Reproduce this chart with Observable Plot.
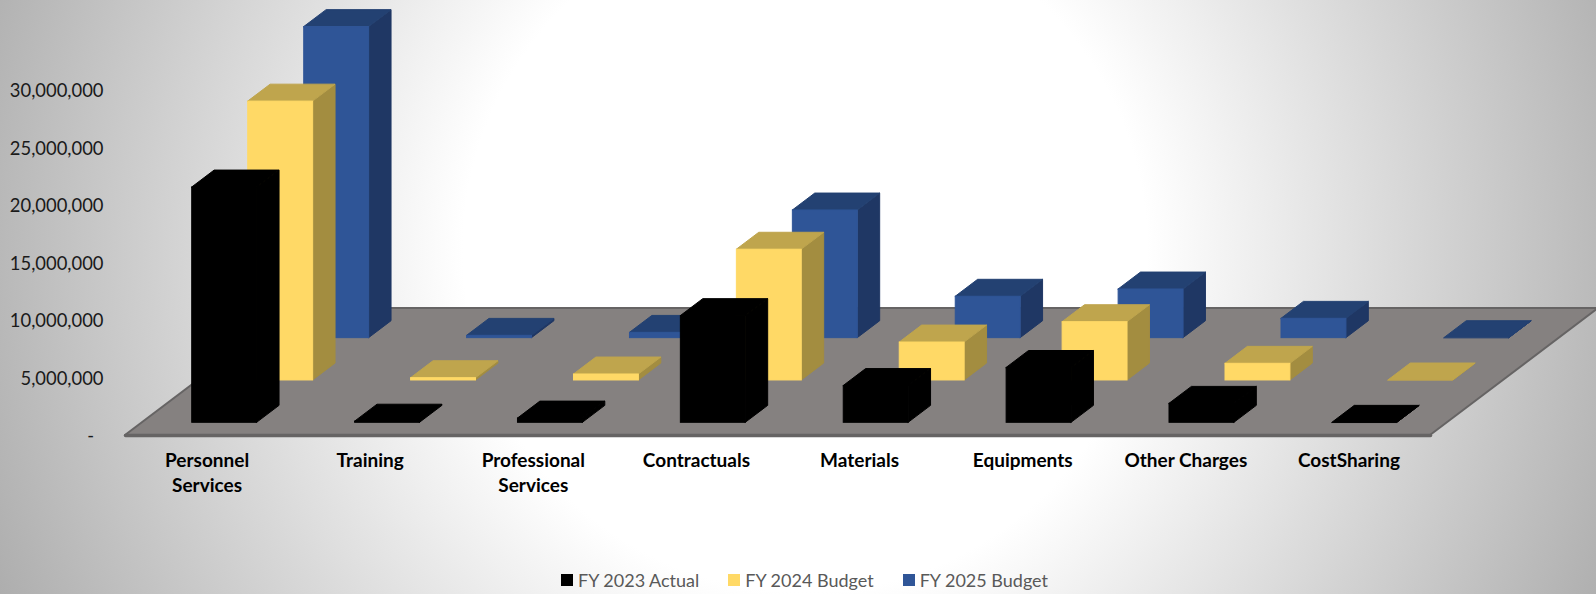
<!DOCTYPE html>
<html>
<head>
<meta charset="utf-8">
<script src="https://cdn.jsdelivr.net/npm/d3@7"></script>
<script src="https://cdn.jsdelivr.net/npm/@observablehq/plot@0.6"></script>
<style>
  html, body { margin: 0; padding: 0; width: 1596px; height: 594px; overflow: hidden; }
  body { background: radial-gradient(circle 900px at 805px 250px, #ffffff 38%, #aaaaaa 100%); font-family: Lato, sans-serif; }
  svg { display: block; }
  #legend { display: flex; align-items: center; height: 34px; padding-left: 561px; padding-top: 6px; box-sizing: border-box; color: #595959; font-size: 18px; }
  #legend .item { display: flex; align-items: center; gap: 5px; margin-right: 29px; }
  #legend .swatch { width: 12px; height: 12px; }
</style>
</head>
<body>
<div id="chart"></div>
<div id="legend"></div>
<script>
// Budget by expense class, dollars
const categories = ["Personnel\nServices", "Training", "Professional\nServices", "Contractuals", "Materials", "Equipments", "Other Charges", "CostSharing"];
const fy2023Actual = [20460000, 100000, 370000, 9280000, 3200000, 4770000, 1650000, 0];
const fy2024Budget = [24250000, 200000, 520000, 11370000, 3300000, 5070000, 1450000, 0];
const fy2025Budget = [27050000, 200000, 460000, 11100000, 3600000, 4230000, 1680000, 0];
const yTicks = [0, 5000000, 10000000, 15000000, 20000000, 25000000, 30000000];

const seriesList = [
  {name: "FY 2023 Actual", values: fy2023Actual, front: "#000000", top: "#000000", side: "#000000"},
  {name: "FY 2024 Budget", values: fy2024Budget, front: "#FFD966", top: "#BFA54D", side: "#A38D40"},
  {name: "FY 2025 Budget", values: fy2025Budget, front: "#2F5597", top: "#234172", side: "#1F3764"}
];

// Oblique projection: one row of depth shifts a point along both data axes.
const xPerDepth = 0.3433;
const yPerDepth = 3681000;
const barStart = 0.306;   // bar's left edge inside its category
const barWidth = 0.398;
const barStep = 0.9985;   // bar-to-bar spacing, in categories
const barFront = 0.3;     // depth offset of a bar's front inside its row
const barBack = 0.7;
const rows = seriesList.length;
const px = (u, d) => u + d * xPerDepth;
const pv = (v, d) => v + d * yPerDepth;

// Floor outline, as horizontal spans at the front and back edge
const floor = [
  {x1: px(0, 0), x2: px(categories.length, 0), y: pv(0, 0)},
  {x1: px(0, rows), x2: px(categories.length, rows), y: pv(0, rows)}
];

function barMarks(s, row) {
  const d0 = row + barFront, d1 = row + barBack;
  const bars = s.values.map((v, i) => {
    const l = i * barStep + barStart;
    return {i, v, l, r: l + barWidth};
  });
  const top = bars.flatMap(b => [
    {id: b.i, x1: px(b.l, d0), x2: px(b.r, d0), y: pv(b.v, d0)},
    {id: b.i, x1: px(b.l, d1), x2: px(b.r, d1), y: pv(b.v, d1)}
  ]);
  const side = bars.flatMap(b => [
    {id: b.i, x: px(b.r, d0), y1: pv(0, d0), y2: pv(b.v, d0)},
    {id: b.i, x: px(b.r, d1), y1: pv(0, d1), y2: pv(b.v, d1)}
  ]);
  // Each face is stroked in its own colour so neighbouring faces overlap without a seam
  return [
    Plot.areaY(side, {x: "x", y1: "y1", y2: "y2", z: "id", fill: s.side, stroke: s.side, strokeWidth: 1}),
    Plot.areaX(top, {x1: "x1", x2: "x2", y: "y", z: "id", fill: s.top, stroke: s.top, strokeWidth: 1}),
    Plot.rect(bars, {
      x1: b => px(b.l, d0), x2: b => px(b.r, d0),
      y1: () => pv(0, d0), y2: b => pv(b.v, d0),
      fill: s.front, stroke: s.front, strokeWidth: 1
    })
  ];
}

const chart = Plot.plot({
  width: 1596,
  height: 560,
  marginLeft: 125,
  marginRight: 0,
  marginTop: 0,
  marginBottom: 0,
  style: {background: "transparent", fontFamily: "Lato, sans-serif", overflow: "hidden"},
  x: {domain: [0, 8], range: [125, 1430], axis: null},
  y: {domain: [0, 30000000], range: [435, 90]},
  marks: [
    Plot.axisY({
      ticks: yTicks,
      tickSize: 0,
      tickPadding: 22,
      dy: 1,
      label: null,
      fontSize: 18.4,
      color: "#1a1a1a",
      tickFormat: d => d === 0 ? "-\u00a0\u00a0" : d3.format(",")(d)
    }),
    Plot.areaX(floor, {x1: "x1", x2: "x2", y: "y", fill: "#858180", stroke: "#666464", strokeWidth: 2}),
    Plot.lineY([0, categories.length], {x: d => d, y: () => 0, stroke: "#666464", strokeWidth: 3.5}),
    // Painted back to front so nearer rows cover the ones behind
    ...[2, 1, 0].flatMap(row => barMarks(seriesList[row], row)),
    Plot.text(categories, {
      x: (d, i) => i + 0.5,
      y: () => 0,
      text: d => d,
      dy: 14,
      lineAnchor: "top",
      lineHeight: 1.316,
      fontSize: 19,
      fontWeight: 700,
      fill: "#000"
    })
  ]
});
document.getElementById("chart").append(chart);

const legend = d3.select("#legend");
for (const s of seriesList) {
  const item = legend.append("div").attr("class", "item");
  item.append("div").attr("class", "swatch").style("background", s.front);
  item.append("span").text(s.name);
}
</script>
</body>
</html>
